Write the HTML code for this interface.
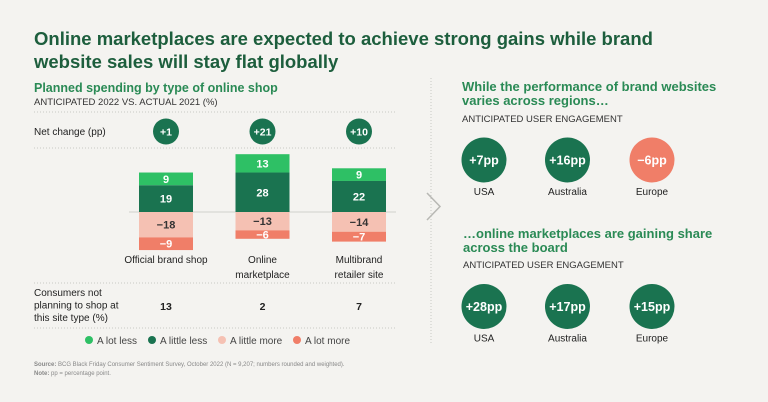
<!DOCTYPE html>
<html><head><meta charset="utf-8"><style>
body{margin:0;background:#f4f3f0;font-family:"Liberation Sans",sans-serif;}
#c{position:relative;width:768px;height:402px;overflow:hidden;}
svg text{font-family:"Liberation Sans",sans-serif;}
</style></head><body>
<div id="c">
<svg id="s" width="768" height="402">
<text x="34" y="45" font-size="18.5" font-weight="bold" fill="#1d5e3d">Online marketplaces are expected to achieve strong gains while brand</text>
<text x="34" y="68" font-size="18.5" font-weight="bold" fill="#1d5e3d">website sales will stay flat globally</text>
<text x="34" y="92" font-size="12.5" font-weight="bold" fill="#2a8a55">Planned spending by type of online shop</text>
<text x="34" y="105" font-size="9.5" fill="#333">ANTICIPATED 2022 VS. ACTUAL 2021 (%)</text>
<g stroke="#c8c8c4" stroke-dasharray="1,2" stroke-width="1">
<line x1="34" x2="395" y1="112" y2="112"/><line x1="34" x2="395" y1="148" y2="148"/>
<line x1="34" x2="395" y1="283" y2="283"/><line x1="34" x2="395" y1="328" y2="328"/>
<line x1="431" x2="431" y1="78" y2="345"/>
</g>
<line x1="129" x2="396" y1="212" y2="212" stroke="#d8d8d4" stroke-width="1.2"/>
<text x="34" y="135" font-size="10" fill="#222">Net change (pp)</text>
<text x="34" y="296" font-size="10" fill="#222"><tspan x="34">Consumers not</tspan><tspan x="34" dy="12.5">planning to shop at</tspan><tspan x="34" dy="12.5">this site type (%)</tspan></text>
<polyline points="427,193 440,206.5 427,220" fill="none" stroke="#b8b8b4" stroke-width="1.5"/>
<g id="bars"></g>
<g id="legend"></g>
<text x="34" y="366" font-size="6" fill="#888"><tspan font-weight="bold">Source:</tspan> BCG Black Friday Consumer Sentiment Survey, October 2022 (N = 9,207; numbers rounded and weighted).</text>
<text x="34" y="375" font-size="6" fill="#888"><tspan font-weight="bold">Note:</tspan> pp = percentage point.</text>
<text x="462" y="91" font-size="13" font-weight="bold" fill="#2a8a55"><tspan x="462">While the performance of brand websites</tspan><tspan x="462" dy="14">varies across regions…</tspan></text>
<text x="462" y="122" font-size="9.5" fill="#333">ANTICIPATED USER ENGAGEMENT</text>
<text x="463" y="238" font-size="13" font-weight="bold" fill="#2a8a55"><tspan x="463">…online marketplaces are gaining share</tspan><tspan x="463" dy="14">across the board</tspan></text>
<text x="463" y="268" font-size="9.5" fill="#333">ANTICIPATED USER ENGAGEMENT</text>
<g id="regions"></g>
</svg>
</div>
<script>
const categories=["Official brand shop","Online marketplace","Multibrand retailer site"];
const catLines=[["Official brand shop"],["Online","marketplace"],["Multibrand","retailer site"]];
const aLotLess=[9,13,9];
const aLittleLess=[19,28,22];
const aLittleMore=[-18,-13,-14];
const aLotMore=[-9,-6,-7];
const netChange=[1,21,10];
const notPlanning=[13,2,7];
const regions=["USA","Australia","Europe"];
const brandRegion=[7,16,-6];
const marketRegion=[28,17,15];
const legendLabels=["A lot less","A little less","A little more","A lot more"];

const NS="http://www.w3.org/2000/svg";
const C={lotLess:"#2ec065",littleLess:"#1a7350",littleMore:"#f5c1b3",lotMore:"#f07e68"};
const base=212,ppu=1.41,bw=54;
const xC=i=>166+i*96.5;
const y=v=>base-v*ppu;
function mk(t,a,p){const e=document.createElementNS(NS,t);for(const k in a)e.setAttribute(k,a[k]);p.appendChild(e);return e;}
const fmt=v=>v<0?"\u2212"+Math.abs(v):""+v;
const bars=document.getElementById('bars');
categories.forEach((c,i)=>{
  const x=xC(i)-bw/2;
  const segs=[[0,aLittleLess[i],C.littleLess,"#fff","a-little-less"],[aLittleLess[i],aLittleLess[i]+aLotLess[i],C.lotLess,"#fff","a-lot-less"],[0,aLittleMore[i],C.littleMore,"#333","a-little-more"],[aLittleMore[i],aLittleMore[i]+aLotMore[i],C.lotMore,"#fff","a-lot-more"]];
  const vals=[aLittleLess[i],aLotLess[i],aLittleMore[i],aLotMore[i]];
  segs.forEach((s,j)=>{
    const y0=y(Math.max(s[0],s[1])),y1=y(Math.min(s[0],s[1]));
    const r=mk('rect',{x:x,y:y0,width:bw,height:y1-y0,fill:s[2]},bars);
    
    
    const t=mk('text',{x:xC(i),y:(y0+y1)/2+4,'text-anchor':'middle','font-size':11,'font-weight':'bold',fill:s[3]},bars);
    t.textContent=fmt(vals[j]);
    
    
  });
  const cc=mk('circle',{cx:xC(i),cy:131.5,r:13,fill:"#1a7350"},bars);
  
  
  const ct=mk('text',{x:xC(i),y:135.5,'text-anchor':'middle','font-size':10.5,'font-weight':'bold',fill:'#fff'},bars);
  ct.textContent="+"+netChange[i];
  
  
  catLines[i].forEach((l,k)=>{
    const lt=mk('text',{x:xC(i),y:263+k*15,'text-anchor':'middle','font-size':10,fill:'#222'},bars);
    lt.textContent=l;
    
    
  });
  const nt=mk('text',{x:xC(i),y:310,'text-anchor':'middle','font-size':10.5,'font-weight':'bold',fill:'#222'},bars);
  nt.textContent=notPlanning[i];
  
  
});
const lg=document.getElementById('legend');
const lc=[C.lotLess,C.littleLess,C.littleMore,C.lotMore];
const lx=[89,152,222,297];
legendLabels.forEach((l,i)=>{
  const d=mk('circle',{cx:lx[i],cy:340,r:4,fill:lc[i]},lg);
  
  
  const t=mk('text',{x:lx[i]+8,y:344,'font-size':10,fill:'#444'},lg);
  t.textContent=l;
  
  
});
const rg=document.getElementById('regions');
const rx=[484,567.5,652];
[[brandRegion,160],[marketRegion,306.5]].forEach(([vals,cy])=>{
  regions.forEach((r,i)=>{
    const c=mk('circle',{cx:rx[i],cy:cy,r:22.5,fill:vals[i]<0?C.lotMore:"#1a7350"},rg);
    
    
    const t=mk('text',{x:rx[i],y:cy+4.5,'text-anchor':'middle','font-size':12.5,'font-weight':'bold',fill:'#fff'},rg);
    t.textContent=(vals[i]<0?"\u2212"+Math.abs(vals[i]):"+"+vals[i])+"pp";
    
    
    const n=mk('text',{x:rx[i],y:cy+35,'text-anchor':'middle','font-size':10,fill:'#222'},rg);
    n.textContent=r;
    
    
  });
});
</script>
</body></html>
